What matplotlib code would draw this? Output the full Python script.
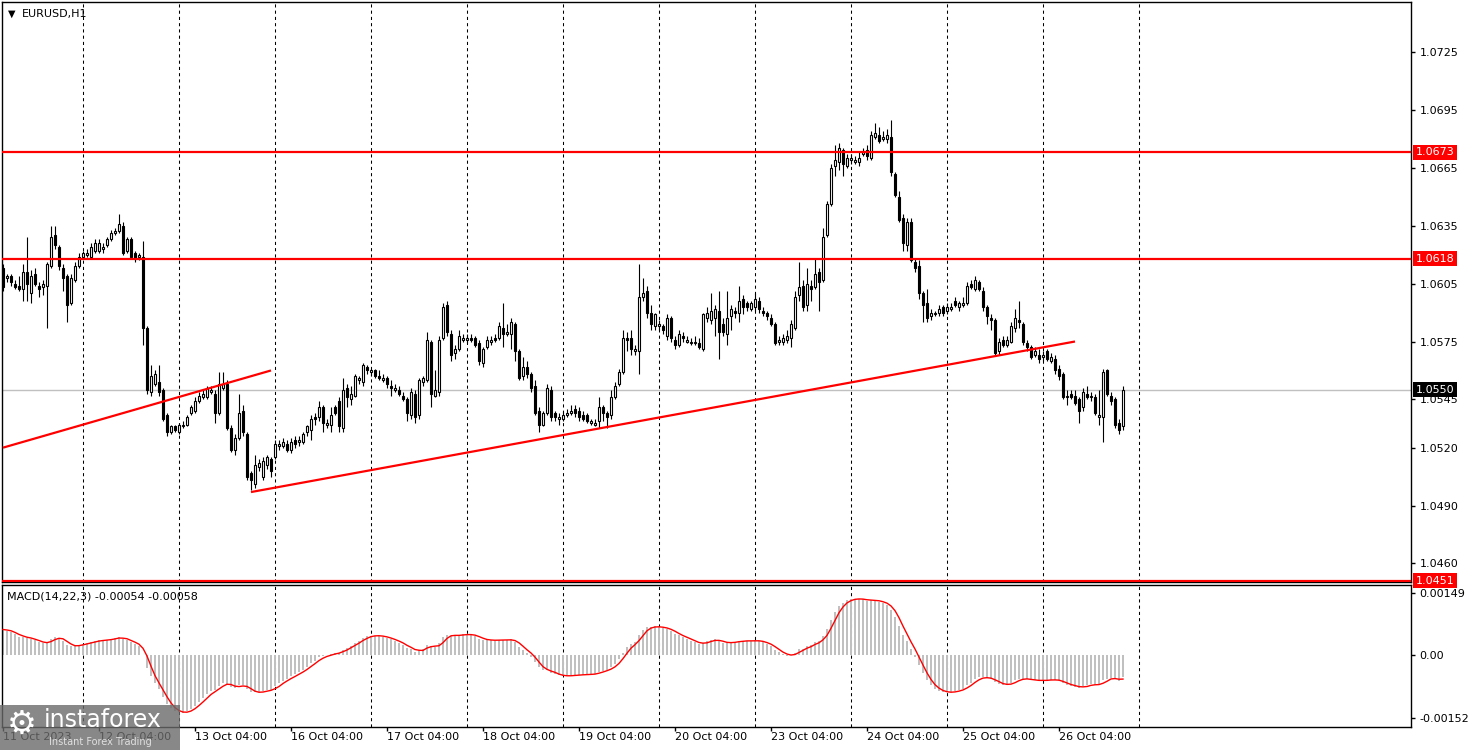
import matplotlib
matplotlib.use("Agg")
import matplotlib.pyplot as plt
import matplotlib.transforms as mtransforms
from matplotlib.patches import Rectangle
import numpy as np
import pandas as pd

# EURUSD H1, 11 Oct 04:00 .. 26 Oct 20:00 (one row per trading day)
opens = [
    1.0613, 1.0608, 1.0609, 1.0605, 1.0604, 1.0602, 1.0611, 1.0600, 1.0610, 1.0604, 1.0603, 1.0604, 1.0614, 1.0630, 1.0624, 1.0613, 1.0609, 1.0595, 1.0607, 1.0614,
    1.0619, 1.0620, 1.0619, 1.0622, 1.0622, 1.0623, 1.0625, 1.0628, 1.0631, 1.0632, 1.0635, 1.0622, 1.0628, 1.0621, 1.0619, 1.0619, 1.0582, 1.0549, 1.0553, 1.0554, 1.0550, 1.0537, 1.0528, 1.0531,
    1.0528, 1.0531, 1.0532, 1.0538, 1.0539, 1.0544, 1.0546, 1.0546, 1.0549, 1.0548, 1.0538, 1.0551, 1.0553, 1.0530, 1.0519, 1.0525, 1.0539, 1.0527, 1.0507, 1.0501, 1.0510, 1.0505, 1.0511, 1.0514,
    1.0515, 1.0521, 1.0521, 1.0522, 1.0519, 1.0524, 1.0523, 1.0523, 1.0528, 1.0529, 1.0536, 1.0536, 1.0541, 1.0532, 1.0532, 1.0541, 1.0544, 1.0530, 1.0551, 1.0545, 1.0547, 1.0555, 1.0554, 1.0562,
    1.0559, 1.0560, 1.0557, 1.0555, 1.0556, 1.0552, 1.0550, 1.0550, 1.0547, 1.0545, 1.0537, 1.0548, 1.0537, 1.0554, 1.0555, 1.0575, 1.0547, 1.0549, 1.0577, 1.0594, 1.0579, 1.0569, 1.0571, 1.0576,
    1.0576, 1.0577, 1.0577, 1.0574, 1.0564, 1.0572, 1.0575, 1.0577, 1.0577, 1.0582, 1.0579, 1.0579, 1.0584, 1.0570, 1.0557, 1.0562, 1.0558, 1.0552, 1.0539, 1.0532, 1.0538, 1.0550, 1.0538, 1.0535,
    1.0535, 1.0537, 1.0538, 1.0540, 1.0539, 1.0537, 1.0537, 1.0533, 1.0532, 1.0534, 1.0541, 1.0538, 1.0537, 1.0546, 1.0553, 1.0559, 1.0577, 1.0577, 1.0570, 1.0570, 1.0598, 1.0601, 1.0590, 1.0583,
    1.0583, 1.0583, 1.0578, 1.0587, 1.0576, 1.0573, 1.0578, 1.0575, 1.0574, 1.0574, 1.0574, 1.0571, 1.0587, 1.0586, 1.0587, 1.0591, 1.0584, 1.0579, 1.0588, 1.0591, 1.0590, 1.0597, 1.0595, 1.0592,
    1.0593, 1.0596, 1.0591, 1.0590, 1.0587, 1.0584, 1.0575, 1.0575, 1.0576, 1.0577, 1.0582, 1.0599, 1.0604, 1.0594, 1.0604, 1.0603, 1.0611, 1.0607, 1.0630, 1.0646, 1.0666, 1.0668, 1.0674, 1.0666,
    1.0669, 1.0668, 1.0668, 1.0672, 1.0674, 1.0670, 1.0681, 1.0682, 1.0680, 1.0680, 1.0681, 1.0662, 1.0650, 1.0639, 1.0625, 1.0637, 1.0616, 1.0614, 1.0600, 1.0595, 1.0588, 1.0589, 1.0590, 1.0593,
    1.0591, 1.0592, 1.0596, 1.0593, 1.0594, 1.0595, 1.0605, 1.0602, 1.0606, 1.0601, 1.0593, 1.0587, 1.0586, 1.0570, 1.0576, 1.0573, 1.0575, 1.0582, 1.0586, 1.0584, 1.0574, 1.0572, 1.0568, 1.0568,
    1.0567, 1.0570, 1.0565, 1.0566, 1.0561, 1.0558, 1.0546, 1.0548, 1.0547, 1.0545, 1.0541, 1.0548, 1.0546, 1.0546, 1.0536, 1.0536, 1.0560, 1.0547, 1.0545, 1.0533, 1.0531,
]
highs = [
    1.0615, 1.0610, 1.0610, 1.0607, 1.0609, 1.0615, 1.0629, 1.0612, 1.0613, 1.0606, 1.0607, 1.0616, 1.0635, 1.0635, 1.0625, 1.0615, 1.0610, 1.0610, 1.0616, 1.0621,
    1.0622, 1.0623, 1.0626, 1.0628, 1.0628, 1.0626, 1.0629, 1.0633, 1.0634, 1.0641, 1.0637, 1.0629, 1.0629, 1.0622, 1.0621, 1.0627, 1.0583, 1.0563, 1.0560, 1.0563, 1.0551, 1.0538, 1.0532, 1.0532,
    1.0533, 1.0534, 1.0537, 1.0542, 1.0546, 1.0549, 1.0550, 1.0552, 1.0552, 1.0550, 1.0559, 1.0559, 1.0555, 1.0532, 1.0527, 1.0548, 1.0542, 1.0528, 1.0508, 1.0516, 1.0514, 1.0515, 1.0516, 1.0515,
    1.0524, 1.0524, 1.0525, 1.0524, 1.0525, 1.0526, 1.0526, 1.0528, 1.0532, 1.0537, 1.0538, 1.0544, 1.0542, 1.0535, 1.0541, 1.0542, 1.0546, 1.0556, 1.0553, 1.0552, 1.0558, 1.0557, 1.0564, 1.0563,
    1.0561, 1.0561, 1.0560, 1.0558, 1.0557, 1.0555, 1.0553, 1.0552, 1.0549, 1.0546, 1.0551, 1.0550, 1.0556, 1.0557, 1.0580, 1.0576, 1.0560, 1.0578, 1.0595, 1.0596, 1.0581, 1.0573, 1.0581, 1.0579,
    1.0579, 1.0579, 1.0578, 1.0576, 1.0572, 1.0578, 1.0578, 1.0579, 1.0585, 1.0595, 1.0584, 1.0587, 1.0585, 1.0571, 1.0567, 1.0565, 1.0559, 1.0555, 1.0541, 1.0539, 1.0553, 1.0552, 1.0539, 1.0538,
    1.0539, 1.0540, 1.0542, 1.0542, 1.0541, 1.0539, 1.0538, 1.0535, 1.0535, 1.0546, 1.0542, 1.0539, 1.0550, 1.0554, 1.0561, 1.0581, 1.0580, 1.0581, 1.0573, 1.0615, 1.0608, 1.0604, 1.0594, 1.0590,
    1.0586, 1.0584, 1.0589, 1.0588, 1.0578, 1.0581, 1.0580, 1.0578, 1.0577, 1.0578, 1.0577, 1.0590, 1.0593, 1.0600, 1.0594, 1.0601, 1.0587, 1.0601, 1.0594, 1.0593, 1.0604, 1.0599, 1.0596, 1.0596,
    1.0600, 1.0598, 1.0593, 1.0591, 1.0589, 1.0585, 1.0578, 1.0579, 1.0581, 1.0586, 1.0601, 1.0616, 1.0607, 1.0613, 1.0607, 1.0618, 1.0613, 1.0634, 1.0648, 1.0667, 1.0677, 1.0678, 1.0675, 1.0672,
    1.0672, 1.0671, 1.0673, 1.0675, 1.0677, 1.0684, 1.0688, 1.0686, 1.0684, 1.0685, 1.0690, 1.0663, 1.0653, 1.0641, 1.0639, 1.0639, 1.0618, 1.0617, 1.0601, 1.0602, 1.0592, 1.0591, 1.0594, 1.0594,
    1.0595, 1.0595, 1.0598, 1.0596, 1.0598, 1.0606, 1.0607, 1.0609, 1.0607, 1.0603, 1.0594, 1.0589, 1.0587, 1.0577, 1.0578, 1.0578, 1.0585, 1.0592, 1.0596, 1.0585, 1.0576, 1.0573, 1.0572, 1.0571,
    1.0570, 1.0571, 1.0569, 1.0568, 1.0563, 1.0559, 1.0550, 1.0550, 1.0550, 1.0546, 1.0551, 1.0552, 1.0549, 1.0548, 1.0550, 1.0561, 1.0561, 1.0549, 1.0546, 1.0535, 1.0552,
]
lows = [
    1.0601, 1.0606, 1.0604, 1.0602, 1.0601, 1.0596, 1.0596, 1.0595, 1.0604, 1.0598, 1.0599, 1.0582, 1.0613, 1.0623, 1.0612, 1.0601, 1.0585, 1.0594, 1.0606, 1.0613,
    1.0618, 1.0619, 1.0618, 1.0621, 1.0621, 1.0621, 1.0624, 1.0627, 1.0630, 1.0631, 1.0620, 1.0621, 1.0618, 1.0616, 1.0617, 1.0573, 1.0548, 1.0547, 1.0552, 1.0547, 1.0534, 1.0526, 1.0527, 1.0528,
    1.0527, 1.0530, 1.0531, 1.0537, 1.0538, 1.0543, 1.0545, 1.0545, 1.0548, 1.0533, 1.0537, 1.0550, 1.0529, 1.0518, 1.0516, 1.0524, 1.0526, 1.0503, 1.0498, 1.0499, 1.0508, 1.0503, 1.0509, 1.0505,
    1.0514, 1.0519, 1.0520, 1.0518, 1.0517, 1.0520, 1.0521, 1.0522, 1.0526, 1.0524, 1.0532, 1.0534, 1.0528, 1.0530, 1.0528, 1.0537, 1.0528, 1.0528, 1.0541, 1.0542, 1.0546, 1.0553, 1.0552, 1.0558,
    1.0557, 1.0556, 1.0555, 1.0554, 1.0551, 1.0547, 1.0549, 1.0547, 1.0544, 1.0534, 1.0535, 1.0533, 1.0535, 1.0552, 1.0554, 1.0541, 1.0546, 1.0547, 1.0576, 1.0578, 1.0565, 1.0566, 1.0570, 1.0575,
    1.0574, 1.0575, 1.0572, 1.0563, 1.0562, 1.0571, 1.0573, 1.0575, 1.0576, 1.0572, 1.0578, 1.0571, 1.0565, 1.0555, 1.0555, 1.0556, 1.0549, 1.0537, 1.0528, 1.0531, 1.0537, 1.0534, 1.0534, 1.0532,
    1.0534, 1.0536, 1.0537, 1.0536, 1.0534, 1.0534, 1.0533, 1.0532, 1.0531, 1.0530, 1.0534, 1.0530, 1.0535, 1.0545, 1.0552, 1.0558, 1.0570, 1.0568, 1.0568, 1.0558, 1.0596, 1.0587, 1.0581, 1.0581,
    1.0581, 1.0579, 1.0576, 1.0575, 1.0571, 1.0572, 1.0575, 1.0574, 1.0573, 1.0573, 1.0571, 1.0570, 1.0585, 1.0584, 1.0578, 1.0566, 1.0578, 1.0573, 1.0581, 1.0587, 1.0585, 1.0589, 1.0591, 1.0591,
    1.0591, 1.0590, 1.0588, 1.0586, 1.0583, 1.0573, 1.0573, 1.0573, 1.0574, 1.0572, 1.0581, 1.0596, 1.0591, 1.0591, 1.0596, 1.0602, 1.0591, 1.0606, 1.0629, 1.0645, 1.0661, 1.0664, 1.0661, 1.0665,
    1.0667, 1.0667, 1.0666, 1.0671, 1.0669, 1.0669, 1.0680, 1.0678, 1.0679, 1.0678, 1.0661, 1.0650, 1.0637, 1.0622, 1.0622, 1.0616, 1.0611, 1.0597, 1.0585, 1.0585, 1.0586, 1.0588, 1.0588, 1.0588,
    1.0589, 1.0591, 1.0593, 1.0591, 1.0593, 1.0594, 1.0602, 1.0601, 1.0601, 1.0591, 1.0584, 1.0581, 1.0568, 1.0568, 1.0572, 1.0572, 1.0574, 1.0580, 1.0582, 1.0573, 1.0570, 1.0566, 1.0567, 1.0564,
    1.0565, 1.0565, 1.0564, 1.0558, 1.0555, 1.0545, 1.0542, 1.0545, 1.0542, 1.0533, 1.0539, 1.0545, 1.0544, 1.0537, 1.0532, 1.0523, 1.0547, 1.0542, 1.0530, 1.0527, 1.0529,
]
closes = [
    1.0603, 1.0609, 1.0606, 1.0603, 1.0602, 1.0611, 1.0605, 1.0609, 1.0605, 1.0602, 1.0605, 1.0615, 1.0629, 1.0625, 1.0614, 1.0608, 1.0594, 1.0608, 1.0614, 1.0619,
    1.0621, 1.0621, 1.0624, 1.0626, 1.0626, 1.0624, 1.0628, 1.0631, 1.0632, 1.0636, 1.0621, 1.0628, 1.0619, 1.0618, 1.0620, 1.0582, 1.0550, 1.0557, 1.0558, 1.0549, 1.0535, 1.0528, 1.0531, 1.0529,
    1.0532, 1.0532, 1.0536, 1.0541, 1.0544, 1.0547, 1.0548, 1.0551, 1.0550, 1.0538, 1.0553, 1.0553, 1.0530, 1.0519, 1.0525, 1.0538, 1.0528, 1.0505, 1.0503, 1.0511, 1.0512, 1.0513, 1.0515, 1.0508,
    1.0522, 1.0522, 1.0523, 1.0519, 1.0523, 1.0522, 1.0524, 1.0527, 1.0531, 1.0535, 1.0535, 1.0541, 1.0533, 1.0533, 1.0537, 1.0538, 1.0531, 1.0550, 1.0546, 1.0548, 1.0557, 1.0556, 1.0563, 1.0560,
    1.0560, 1.0557, 1.0556, 1.0556, 1.0553, 1.0551, 1.0551, 1.0548, 1.0545, 1.0538, 1.0549, 1.0536, 1.0555, 1.0556, 1.0576, 1.0548, 1.0550, 1.0576, 1.0593, 1.0580, 1.0568, 1.0571, 1.0578, 1.0577,
    1.0577, 1.0576, 1.0573, 1.0565, 1.0571, 1.0576, 1.0576, 1.0576, 1.0583, 1.0579, 1.0580, 1.0585, 1.0570, 1.0556, 1.0562, 1.0558, 1.0551, 1.0538, 1.0532, 1.0538, 1.0551, 1.0536, 1.0536, 1.0536,
    1.0537, 1.0538, 1.0539, 1.0538, 1.0536, 1.0535, 1.0534, 1.0534, 1.0533, 1.0541, 1.0538, 1.0536, 1.0546, 1.0552, 1.0559, 1.0577, 1.0576, 1.0571, 1.0571, 1.0598, 1.0600, 1.0590, 1.0584, 1.0589,
    1.0584, 1.0581, 1.0587, 1.0577, 1.0573, 1.0579, 1.0577, 1.0576, 1.0575, 1.0575, 1.0572, 1.0589, 1.0590, 1.0591, 1.0592, 1.0580, 1.0580, 1.0587, 1.0592, 1.0590, 1.0596, 1.0593, 1.0593, 1.0595,
    1.0597, 1.0592, 1.0590, 1.0588, 1.0584, 1.0574, 1.0576, 1.0577, 1.0578, 1.0584, 1.0598, 1.0603, 1.0593, 1.0605, 1.0602, 1.0610, 1.0606, 1.0629, 1.0646, 1.0665, 1.0669, 1.0675, 1.0667, 1.0670,
    1.0670, 1.0669, 1.0670, 1.0673, 1.0671, 1.0682, 1.0683, 1.0679, 1.0681, 1.0682, 1.0663, 1.0651, 1.0638, 1.0626, 1.0637, 1.0617, 1.0613, 1.0600, 1.0594, 1.0587, 1.0590, 1.0590, 1.0592, 1.0590,
    1.0593, 1.0593, 1.0594, 1.0595, 1.0595, 1.0604, 1.0603, 1.0607, 1.0602, 1.0593, 1.0588, 1.0586, 1.0569, 1.0575, 1.0573, 1.0576, 1.0583, 1.0587, 1.0585, 1.0575, 1.0572, 1.0567, 1.0570, 1.0566,
    1.0568, 1.0566, 1.0567, 1.0560, 1.0557, 1.0546, 1.0547, 1.0546, 1.0543, 1.0539, 1.0549, 1.0546, 1.0547, 1.0538, 1.0537, 1.0559, 1.0548, 1.0544, 1.0532, 1.0529, 1.0550,
]

level_prices = [1.0673, 1.0618, 1.0451]
current_price = 1.0550
trend_x = [(0, 67), (62, 268)]
trend_y = [(1.0520, 1.0560), (1.0497, 1.0575)]

price_ticks = [1.0725, 1.0695, 1.0665, 1.0635, 1.0605, 1.0575, 1.0545, 1.0520, 1.0490, 1.0460]
macd_ticks = [0.00149, 0.0, -0.00152]
macd_tick_labels = ["0.00149", "0.00", "-0.00152"]
macd_start = 0.00067   # value of the MACD at the first bar
day_starts = [20, 44, 68, 92, 116, 140, 164, 188, 212, 236, 260, 284]
date_pos = [0, 24, 48, 72, 96, 120, 144, 168, 192, 216, 240, 264]
date_labels = ["11 Oct 2023", "12 Oct 04:00", "13 Oct 04:00", "16 Oct 04:00", "17 Oct 04:00",
               "18 Oct 04:00", "19 Oct 04:00", "20 Oct 04:00", "23 Oct 04:00", "24 Oct 04:00",
               "25 Oct 04:00", "26 Oct 04:00"]

assert len(opens) == len(highs) == len(lows) == len(closes), (len(opens), len(highs), len(lows), len(closes))

o = np.array(opens)
h = np.array(highs)
l = np.array(lows)
c = np.array(closes)
x = np.arange(len(c))

# MACD(14,22,3) as in MT4: main = EMA14 - EMA22, signal = SMA3 of main
a_f, a_s = 2 / 15, 2 / 23
ema_f, ema_s = c[0], c[0] - macd_start
main = []
for v in c:
    ema_f += a_f * (v - ema_f)
    ema_s += a_s * (v - ema_s)
    main.append(ema_f - ema_s)
main = np.array(main)
signal = pd.Series(main).rolling(3, min_periods=1).mean().values

W, H = 1468, 750
fig = plt.figure(figsize=(W / 100, H / 100), dpi=100)
fig.patch.set_facecolor("white")
ax = fig.add_axes([2 / W, 1 - 582 / H, 1409 / W, 580 / H])
axm = fig.add_axes([2 / W, 1 - 727 / H, 1409 / W, 142 / H])

for a in (ax, axm):
    a.set_xlim(-0.25, 352)
    for s in a.spines.values():
        s.set_color("black")
        s.set_linewidth(1)
    for d in day_starts:
        a.axvline(d, color="black", lw=0.75, ls=(0, (3, 3)), zorder=1)

# candles
up = c >= o
ax.vlines(x, l, h, color="black", lw=0.8, zorder=3)
body_lo = np.minimum(o, c)
body_h = np.maximum(np.abs(c - o), 0.00003)
ax.bar(x, body_h, width=0.55, bottom=body_lo, color=np.where(up, "white", "black"),
       edgecolor="black", linewidth=0.8, zorder=4)

for lv in level_prices:
    ax.axhline(lv, color="red", lw=1.6, zorder=5)
ax.axhline(current_price, color="#c0c0c0", lw=1, zorder=2)
for tx, ty in zip(trend_x, trend_y):
    ax.plot(tx, ty, color="red", lw=1.6, zorder=5, solid_capstyle="butt")

ax.set_ylim(1.04504, 1.07509)
ax.set_xticks([])
ax.set_yticks(price_ticks)
ax.set_yticklabels([f"{p:.4f}" for p in price_ticks])
ax.tick_params(axis="y", left=False, labelleft=False, right=True, labelright=True,
               length=3, width=1, pad=3, labelsize=8)

trans = mtransforms.blended_transform_factory(ax.transAxes, ax.transData)
for lv in level_prices:
    ax.text(1.0035, lv, f"{lv:.4f}", transform=trans, ha="left", va="center", color="white",
            fontsize=8, clip_on=False, zorder=10,
            bbox=dict(boxstyle="square,pad=0.22", fc="red", ec="none"))
ax.text(1.0035, current_price, f"{current_price:.4f}", transform=trans, ha="left", va="center",
        color="white", fontsize=8, clip_on=False, zorder=10,
        bbox=dict(boxstyle="square,pad=0.22", fc="black", ec="none"))

ax.text(6 / 1409, 1 - 12 / 580, "\u25bc", transform=ax.transAxes, fontsize=7, va="center", ha="left")
ax.text(20 / 1409, 1 - 12 / 580, "EURUSD,H1", transform=ax.transAxes, fontsize=8, va="center", ha="left")

# MACD panel
axm.bar(x, main, width=0.55, color="#c0c0c0", zorder=2)
axm.plot(x, signal, color="red", lw=1, zorder=3)
axm.set_ylim(-0.00173, 0.00168)
axm.set_yticks(macd_ticks)
axm.set_yticklabels(macd_tick_labels)
axm.tick_params(axis="y", left=False, labelleft=False, right=True, labelright=True,
                length=3, width=1, pad=3, labelsize=8)
axm.set_xticks(date_pos)
axm.set_xticklabels([])
axm.tick_params(axis="x", length=3, width=1, direction="out")
for p, lab in zip(date_pos, date_labels):
    axm.text(p, -0.035, lab, transform=axm.get_xaxis_transform(), ha="left", va="top",
             fontsize=8, clip_on=False)
axm.text(5 / 1409, 0.92, "MACD(14,22,3) -0.00054 -0.00058", transform=axm.transAxes,
         fontsize=8, va="center", ha="left")

# watermark (sits over the first date labels, as in the source image)
fig.add_artist(Rectangle((0, 0), 180 / W, 45 / H, transform=fig.transFigure,
                         facecolor="#6a6a6a", alpha=0.8, edgecolor="none", zorder=10))
fig.text(22 / W, 1 - 724 / H, "\u2699", color="white", fontsize=24, ha="center", va="center", zorder=11)
fig.text(44 / W, 1 - 720 / H, "instaforex", color="white", fontsize=17, ha="left", va="center", zorder=11)
fig.text(49 / W, 1 - 742 / H, "Instant Forex Trading", color="#e0e0e0", fontsize=7, ha="left",
         va="center", zorder=11)

fig.savefig("out.png", dpi=100)
